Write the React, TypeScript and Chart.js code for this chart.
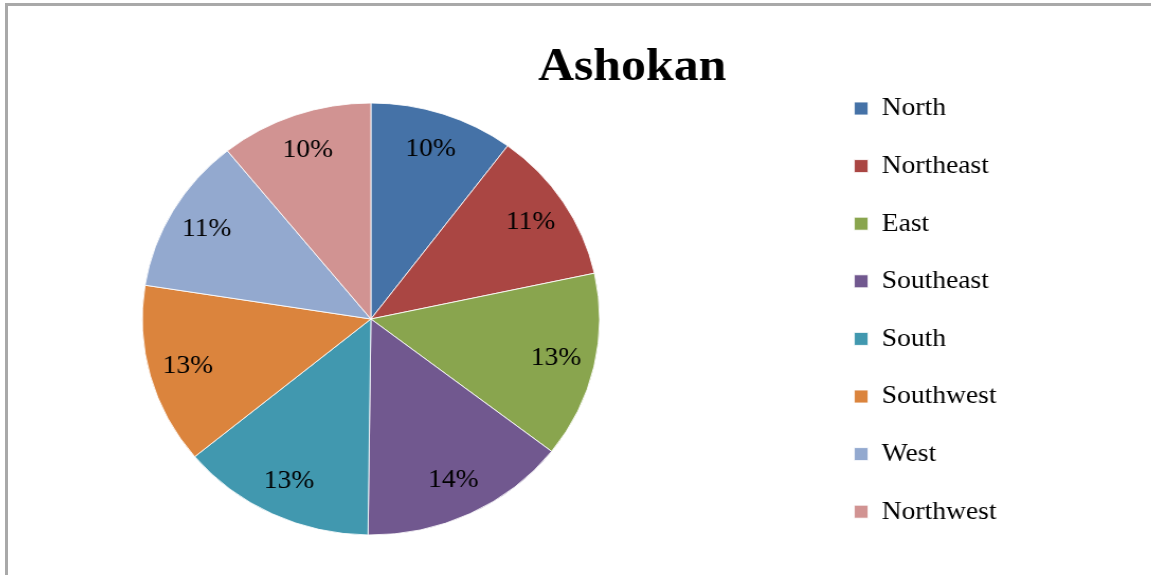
import React, { useEffect, useRef } from "react";
import { Chart, registerables } from "chart.js";

Chart.register(...registerables);

const chartTitle = "Ashokan";
const categories = ["North", "Northeast", "East", "Southeast", "South", "Southwest", "West", "Northwest"];
const shares = [10.2, 11.4, 13.9, 14.7, 13.8, 13.5, 11.7, 10.8];
const sliceColors = ["#4572A7", "#AA4643", "#89A54E", "#71588F", "#4198AF", "#DB843D", "#93A9CF", "#D19392"];

const FONT = '"Liberation Serif", "Times New Roman", serif';
const CANVAS_W = 1176;
const CANVAS_H = 600;
const STRETCH = 1151 / 1088;
const CANVAS_LEFT = -78.6;

const pieLabelsPlugin = {
  id: "pieLabels",
  afterDatasetsDraw(chart: any) {
    const ctx = chart.ctx;
    const meta = chart.getDatasetMeta(0);
    const data = chart.data.datasets[0].data as number[];
    const total = data.reduce((a, b) => a + b, 0);
    ctx.save();
    ctx.font = `26px ${FONT}`;
    ctx.fillStyle = "#000";
    ctx.textAlign = "center";
    ctx.textBaseline = "middle";
    meta.data.forEach((arc: any, i: number) => {
      const { x, y, startAngle, endAngle, outerRadius } = arc.getProps(
        ["x", "y", "startAngle", "endAngle", "outerRadius"],
        true
      );
      const mid = (startAngle + endAngle) / 2;
      const r = outerRadius * 0.83;
      const pct = Math.floor((data[i] / total) * 100 + 1e-9);
      ctx.fillText(pct + "%", x + Math.cos(mid) * r, y + Math.sin(mid) * r);
    });
    ctx.restore();
  },
};

const titlePlugin = {
  id: "titleAt",
  afterDraw(chart: any) {
    const ctx = chart.ctx;
    ctx.save();
    ctx.font = `bold 47px ${FONT}`;
    ctx.fillStyle = "#000";
    ctx.textAlign = "center";
    ctx.textBaseline = "alphabetic";
    ctx.fillText(chartTitle, (632 - CANVAS_LEFT) / STRETCH, 80);
    ctx.restore();
  },
};

export default function App() {
  const canvasRef = useRef<HTMLCanvasElement | null>(null);

  useEffect(() => {
    if (!canvasRef.current) return;
    const chart = new Chart(canvasRef.current, {
      type: "pie",
      data: {
        labels: categories,
        datasets: [
          {
            data: shares,
            backgroundColor: sliceColors,
            borderColor: "rgba(255,255,255,0.85)",
            borderWidth: 1,
            radius: 216,
          } as any,
        ],
      },
      options: {
        animation: false,
        responsive: false,
        maintainAspectRatio: false,
        devicePixelRatio: 1,
        layout: { padding: { left: 0, right: 150.1, top: 63.9, bottom: 25.9 } },
        plugins: {
          legend: {
            position: "right",
            align: "start",
            labels: {
              font: { family: FONT, size: 26 },
              color: "#000",
              boxWidth: 13,
              boxHeight: 13,
              padding: 31.6,
            },
          },
          title: { display: false },
          tooltip: { enabled: false },
        },
      },
      plugins: [pieLabelsPlugin, titlePlugin],
    });
    return () => chart.destroy();
  }, []);

  return (
    <div
      style={{
        position: "fixed",
        left: 0,
        top: 0,
        width: 1151,
        height: 575,
        overflow: "hidden",
        background: "#fff",
      }}
    >
      <div
        style={{
          position: "absolute",
          left: 5,
          top: 3,
          width: 1300,
          height: 800,
          borderLeft: "3px solid #a9a9a9",
          borderTop: "3px solid #a9a9a9",
        }}
      />
      <canvas
        ref={canvasRef}
        width={CANVAS_W}
        height={CANVAS_H}
        style={{
          position: "absolute",
          left: CANVAS_LEFT,
          top: 0,
          width: CANVAS_W * STRETCH,
          height: CANVAS_H,
          display: "block",
        }}
      />
    </div>
  );
}
